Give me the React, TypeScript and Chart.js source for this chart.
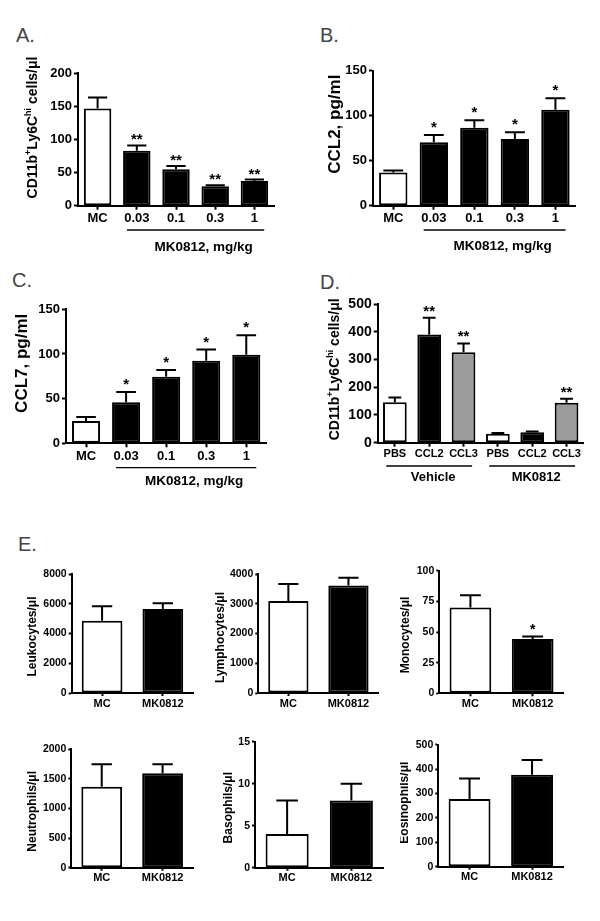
import React, { useEffect, useRef } from "react";
import { Chart, registerables } from "chart.js";

Chart.register(...registerables);

const FONT = "'Liberation Sans', Arial, Helvetica, sans-serif";

// ---------------- data ----------------
const doseLabels = ["MC", "0.03", "0.1", "0.3", "1"];

const aMonocyteValues = [147, 83, 55, 29.5, 37.5];
const aMonocyteErrors = [16.5, 8, 5, 1.5, 2];
const aStars = ["", "**", "**", "**", "**"];

const bCcl2Values = [37, 70.5, 86.5, 74, 106.5];
const bCcl2Errors = [2.2, 8, 8.5, 7.5, 13];
const bStars = ["", "*", "*", "*", "*"];

const cCcl7Values = [25, 46, 74.5, 92.5, 99];
const cCcl7Errors = [4.5, 11.5, 7.5, 12.5, 22];
const cStars = ["", "*", "*", "*", "*"];

const dLabels = ["PBS", "CCL2", "CCL3", "PBS", "CCL2", "CCL3"];
const dValues = [146, 390, 326, 32, 37.5, 144];
const dErrors = [17, 60, 32, 3, 3, 14.5];
const dStars = ["", "**", "**", "", "", "**"];

const eLabels = ["MC", "MK0812"];
const leukocyteValues = [4860, 5650];
const leukocyteErrors = [970, 380];
const lymphocyteValues = [3090, 3610];
const lymphocyteErrors = [575, 265];
const monocyteValues = [70, 44.3];
const monocyteErrors = [10, 2.1];
const monocyteStars = ["", "*"];
const neutrophilValues = [1365, 1590];
const neutrophilErrors = [380, 155];
const basophilValues = [4, 8];
const basophilErrors = [4, 2];
const eosinophilValues = [277, 377];
const eosinophilErrors = [84, 60];
const noStars = ["", ""];

const WHITE = "#ffffff";
const BLACK = "#000000";
const GRAY = "#9b9b9b";
const doseColors = [WHITE, BLACK, BLACK, BLACK, BLACK];
const dColors = [WHITE, BLACK, GRAY, WHITE, BLACK, GRAY];
const eColors = [WHITE, BLACK];

// ---------------- panel layout ----------------
type Seg = { text: string; sup?: boolean };
type Group = { from: number; to: number; label: string; dx: number };
type PanelCfg = {
  key: string;
  rect: number[];
  area: number[];
  labels: string[];
  values: number[];
  errors: number[];
  stars: string[];
  colors: string[];
  yMax: number;
  yStep: number;
  tickSize: number;
  xSize: number;
  tickLength: number;
  barPct: number;
  capRatio: number;
  errWidth: number;
  starSize: number;
  starGap: number;
  title: Seg[];
  titleSize: number;
  titleDx: number;
  titleDy: number;
  groups: Group[];
  groupLineDy: number;
  groupLabelDy: number;
  groupSize: number;
};

const cd11bTitle: Seg[] = [
  { text: "CD11b" },
  { text: "+", sup: true },
  { text: "Ly6C" },
  { text: "hi", sup: true },
  { text: " cells/\u03bcl" },
];

const doseGroup: Group[] = [{ from: 1, to: 4, label: "MK0812, mg/kg", dx: 8 }];

const topCommon = {
  tickSize: 13,
  xSize: 13,
  tickLength: 4,
  barPct: 0.7,
  capRatio: 0.35,
  errWidth: 2,
  starSize: 15,
  groupSize: 13.5,
};

const eCommon = {
  labels: eLabels,
  colors: eColors,
  tickSize: 10.5,
  xSize: 11,
  tickLength: 3,
  barPct: 0.67,
  capRatio: 0.25,
  errWidth: 2,
  starSize: 14,
  starGap: 2,
  titleSize: 12,
  groups: [] as Group[],
  groupLineDy: 0,
  groupLabelDy: 0,
  groupSize: 12,
};

const panels: PanelCfg[] = [
  {
    ...topCommon,
    key: "A",
    rect: [0, 50, 295, 215],
    area: [78, 73.3, 274, 205.7],
    labels: doseLabels,
    values: aMonocyteValues,
    errors: aMonocyteErrors,
    stars: aStars,
    colors: doseColors,
    yMax: 200,
    yStep: 50,
    starGap: 1,
    title: cd11bTitle,
    titleSize: 14,
    titleDx: 46,
    titleDy: -12,
    groups: doseGroup,
    groupLineDy: 24.3,
    groupLabelDy: 41.3,
  },
  {
    ...topCommon,
    key: "B",
    rect: [300, 50, 300, 215],
    area: [373, 70.7, 575.7, 205.7],
    labels: doseLabels,
    values: bCcl2Values,
    errors: bCcl2Errors,
    stars: bStars,
    colors: doseColors,
    yMax: 150,
    yStep: 50,
    starGap: 3,
    title: [{ text: "CCL2, pg/ml" }],
    titleSize: 17,
    titleDx: 39,
    titleDy: -14,
    groups: doseGroup,
    groupLineDy: 24.3,
    groupLabelDy: 41,
  },
  {
    ...topCommon,
    key: "C",
    rect: [0, 290, 295, 210],
    area: [66, 309.3, 266.3, 443.3],
    labels: doseLabels,
    values: cCcl7Values,
    errors: cCcl7Errors,
    stars: cStars,
    colors: doseColors,
    yMax: 150,
    yStep: 50,
    starGap: 3,
    title: [{ text: "CCL7, pg/ml" }],
    titleSize: 17,
    titleDx: 45,
    titleDy: -13,
    groups: doseGroup,
    groupLineDy: 24.4,
    groupLabelDy: 38.4,
  },
  {
    ...topCommon,
    key: "D",
    rect: [300, 290, 300, 210],
    area: [377.7, 304, 583.7, 442.7],
    labels: dLabels,
    values: dValues,
    errors: dErrors,
    stars: dStars,
    colors: dColors,
    yMax: 500,
    yStep: 100,
    tickSize: 14,
    xSize: 11,
    barPct: 0.69,
    capRatio: 0.27,
    starGap: 2,
    title: cd11bTitle,
    titleSize: 14,
    titleDx: 44,
    titleDy: -4,
    groups: [
      { from: 0, to: 2, label: "Vehicle", dx: 4 },
      { from: 3, to: 5, label: "MK0812", dx: 4 },
    ],
    groupLineDy: 23.3,
    groupLabelDy: 35,
    groupSize: 13,
  },
  {
    ...eCommon,
    key: "Leuk",
    rect: [0, 555, 200, 170],
    area: [71.7, 574, 193.2, 693],
    values: leukocyteValues,
    errors: leukocyteErrors,
    stars: noStars,
    yMax: 8000,
    yStep: 2000,
    title: [{ text: "Leukocytes/\u03bcl" }],
    titleDx: 40,
    titleDy: 3,
  },
  {
    ...eCommon,
    key: "Lymph",
    rect: [200, 555, 200, 170],
    area: [258.3, 574, 378.5, 693],
    values: lymphocyteValues,
    errors: lymphocyteErrors,
    stars: noStars,
    yMax: 4000,
    yStep: 1000,
    title: [{ text: "Lymphocytes/\u03bcl" }],
    titleDx: 39,
    titleDy: 4,
  },
  {
    ...eCommon,
    key: "Mono",
    rect: [400, 555, 200, 170],
    area: [439.3, 570.7, 563.8, 693.3],
    values: monocyteValues,
    errors: monocyteErrors,
    stars: monocyteStars,
    yMax: 100,
    yStep: 25,
    title: [{ text: "Monocytes/\u03bcl" }],
    titleDx: 35,
    titleDy: 3,
  },
  {
    ...eCommon,
    key: "Neut",
    rect: [0, 730, 200, 170],
    area: [71.3, 749, 193, 867.7],
    values: neutrophilValues,
    errors: neutrophilErrors,
    stars: noStars,
    yMax: 2000,
    yStep: 500,
    title: [{ text: "Neutrophils/\u03bcl" }],
    titleDx: 40,
    titleDy: 3,
  },
  {
    ...eCommon,
    key: "Baso",
    rect: [200, 730, 200, 170],
    area: [255, 741.7, 383.5, 867.7],
    values: basophilValues,
    errors: basophilErrors,
    stars: noStars,
    yMax: 15,
    yStep: 5,
    title: [{ text: "Basophils/\u03bcl" }],
    titleDx: 27.5,
    titleDy: 3,
  },
  {
    ...eCommon,
    key: "Eos",
    rect: [400, 730, 200, 170],
    area: [438.3, 744.7, 563.3, 866.7],
    values: eosinophilValues,
    errors: eosinophilErrors,
    stars: noStars,
    yMax: 500,
    yStep: 100,
    title: [{ text: "Eosinophils/\u03bcl" }],
    titleDx: 35,
    titleDy: -3,
  },
];

const panelLetters = [
  { text: "A.", left: 16, top: 25 },
  { text: "B.", left: 320, top: 25 },
  { text: "C.", left: 12, top: 270 },
  { text: "D.", left: 320, top: 272 },
  { text: "E.", left: 18, top: 534 },
];

function Panel({ cfg }: { cfg: PanelCfg }) {
  const ref = useRef<HTMLCanvasElement>(null);
  const [rx, ry, rw, rh] = cfg.rect;
  const [al, at, ar, ab] = cfg.area;

  useEffect(() => {
    const canvas = ref.current;
    if (!canvas) return;

    const decor = {
      id: "decor" + cfg.key,
      afterDatasetsDraw(chart: any) {
        const ctx = chart.ctx as CanvasRenderingContext2D;
        const ys = chart.scales.y;
        const meta = chart.getDatasetMeta(0);
        ctx.save();
        ctx.strokeStyle = "#000";
        ctx.lineWidth = cfg.errWidth;
        meta.data.forEach((bar: any, i: number) => {
          const props = bar.getProps(["x", "y", "width"], true);
          const top = ys.getPixelForValue(cfg.values[i] + cfg.errors[i]);
          const half = props.width * cfg.capRatio;
          ctx.beginPath();
          ctx.moveTo(props.x, props.y);
          ctx.lineTo(props.x, top);
          ctx.moveTo(props.x - half, top);
          ctx.lineTo(props.x + half, top);
          ctx.stroke();
          const s = cfg.stars[i];
          if (s) {
            ctx.fillStyle = "#000";
            ctx.font = `bold ${cfg.starSize}px ${FONT}`;
            ctx.textAlign = "center";
            ctx.textBaseline = "alphabetic";
            ctx.fillText(s, props.x, top - cfg.starGap);
          }
        });
        ctx.restore();
      },
      afterDraw(chart: any) {
        const ctx = chart.ctx as CanvasRenderingContext2D;
        const ca = chart.chartArea;
        const xs = chart.scales.x;
        ctx.save();
        // y title (rotated, with superscripts)
        const size = cfg.titleSize;
        const supSize = Math.round(size * 0.65);
        const cx = ca.left - cfg.titleDx;
        const cy = (ca.top + ca.bottom) / 2 + cfg.titleDy;
        ctx.translate(cx, cy);
        ctx.rotate(-Math.PI / 2);
        ctx.fillStyle = "#000";
        ctx.textAlign = "left";
        ctx.textBaseline = "alphabetic";
        let total = 0;
        const widths = cfg.title.map((sg) => {
          ctx.font = `bold ${sg.sup ? supSize : size}px ${FONT}`;
          const w = ctx.measureText(sg.text).width;
          total += w;
          return w;
        });
        let px = -total / 2;
        const base = size * 0.36;
        cfg.title.forEach((sg, i) => {
          ctx.font = `bold ${sg.sup ? supSize : size}px ${FONT}`;
          ctx.fillText(sg.text, px, sg.sup ? base - size * 0.42 : base);
          px += widths[i];
        });
        ctx.restore();

        // group underlines + labels
        if (cfg.groups.length) {
          ctx.save();
          const spacing = xs.getPixelForValue(1) - xs.getPixelForValue(0);
          ctx.strokeStyle = "#000";
          ctx.lineWidth = 1.3;
          ctx.fillStyle = "#000";
          ctx.font = `bold ${cfg.groupSize}px ${FONT}`;
          ctx.textAlign = "center";
          ctx.textBaseline = "middle";
          cfg.groups.forEach((g) => {
            const x1 = xs.getPixelForValue(g.from) - spacing * 0.25;
            const x2 = xs.getPixelForValue(g.to) + spacing * 0.25;
            const ly = ca.bottom + cfg.groupLineDy;
            ctx.beginPath();
            ctx.moveTo(x1, ly);
            ctx.lineTo(x2, ly);
            ctx.stroke();
            ctx.fillText(g.label, (x1 + x2) / 2 + g.dx, ca.bottom + cfg.groupLabelDy);
          });
          ctx.restore();
        }
      },
    };

    const gridOpts = {
      display: true,
      drawOnChartArea: false,
      drawTicks: true,
      tickLength: cfg.tickLength,
      tickWidth: 2,
      tickColor: "#000",
      color: "#000",
      offset: false,
    };
    const borderOpts = { display: true, color: "#000", width: 2 };

    const chart = new Chart(canvas, {
      type: "bar",
      data: {
        labels: cfg.labels,
        datasets: [
          {
            data: cfg.values,
            backgroundColor: cfg.colors,
            borderColor: "#000",
            borderWidth: 2,
            borderSkipped: false,
            categoryPercentage: 1,
            barPercentage: cfg.barPct,
          } as any,
        ],
      },
      options: {
        animation: false,
        responsive: false,
        maintainAspectRatio: false,
        devicePixelRatio: 1,
        events: [],
        layout: {
          padding: { top: at - ry, right: rx + rw - ar, bottom: 0, left: 0 },
        },
        plugins: {
          legend: { display: false },
          tooltip: { enabled: false },
          title: { display: false },
        },
        scales: {
          x: {
            type: "category",
            offset: true,
            grid: gridOpts as any,
            border: borderOpts,
            ticks: {
              color: "#000",
              font: { family: FONT, size: cfg.xSize, weight: "bold" },
              padding: 1,
              maxRotation: 0,
              autoSkip: false,
            },
            afterFit: (s: any) => {
              s.height = ry + rh - ab;
            },
          },
          y: {
            min: 0,
            max: cfg.yMax,
            grid: gridOpts as any,
            border: borderOpts,
            ticks: {
              stepSize: cfg.yStep,
              color: "#000",
              font: { family: FONT, size: cfg.tickSize, weight: "bold" },
              padding: 2,
              callback: (v: any) => String(v),
            },
            afterFit: (s: any) => {
              s.width = al - rx;
            },
          },
        },
      } as any,
      plugins: [decor],
    });
    return () => chart.destroy();
  }, []);

  return (
    <canvas
      ref={ref}
      width={rw}
      height={rh}
      style={{ position: "absolute", left: rx, top: ry, width: rw, height: rh }}
    />
  );
}

export default function App() {
  return (
    <div
      style={{
        position: "absolute",
        left: 0,
        top: 0,
        width: 600,
        height: 921,
        background: "#ffffff",
        overflow: "hidden",
      }}
    >
      {panelLetters.map((p) => (
        <div
          key={p.text}
          style={{
            position: "absolute",
            left: p.left,
            top: p.top,
            fontFamily: FONT,
            fontSize: 20,
            lineHeight: "20px",
            color: "#444444",
          }}
        >
          {p.text}
        </div>
      ))}
      {panels.map((cfg) => (
        <Panel key={cfg.key} cfg={cfg} />
      ))}
    </div>
  );
}
